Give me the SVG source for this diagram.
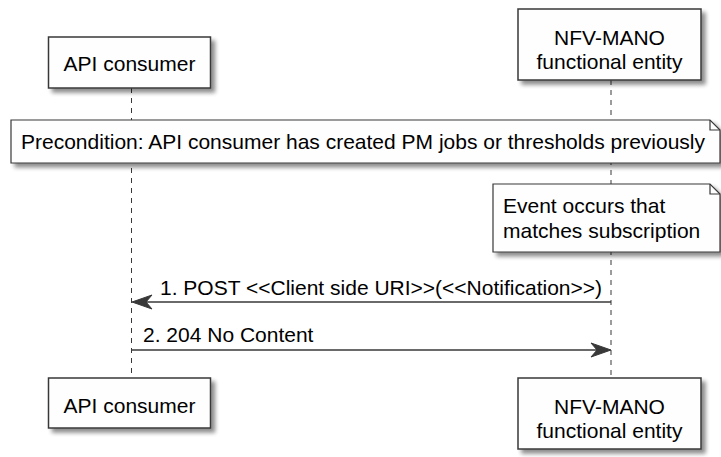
<svg xmlns="http://www.w3.org/2000/svg" width="721" height="457" viewBox="0 0 721 457">
<style>
  .box{fill:#fefefe;stroke:#383838;stroke-width:1.5;filter:url(#sh)}
  .note{fill:#fefefe;stroke:#383838;stroke-width:1.2;filter:url(#sh)}
  .fold{fill:none;stroke:#383838;stroke-width:1.2}
  .life{stroke:#383838;stroke-width:1;stroke-dasharray:5,5;fill:none}
  .msg{stroke:#383838;stroke-width:1.5;fill:none}
  .head{fill:#383838;stroke:#383838;stroke-width:1}
  text{font-family:"Liberation Sans",Arial,sans-serif;font-size:21px;fill:#000}
  .c{text-anchor:middle}
</style>
<defs>
  <filter id="sh" x="-10%" y="-10%" width="130%" height="140%">
    <feGaussianBlur in="SourceAlpha" stdDeviation="2"/>
    <feOffset dx="4" dy="4" result="b"/>
    <feComponentTransfer><feFuncA type="linear" slope="0.45"/></feComponentTransfer>
    <feMerge><feMergeNode/><feMergeNode in="SourceGraphic"/></feMerge>
  </filter>
</defs>
<g id="connectors">
  <line class="life" x1="131.5" y1="88" x2="131.5" y2="378"/>
  <line class="life" x1="611" y1="80" x2="611" y2="378"/>
  <line class="msg" x1="140" y1="302" x2="611" y2="302"/>
  <polygon class="head" points="132,302 152,295 146,302 152,309"/>
  <text x="160" y="295">1. POST &lt;&lt;Client side URI&gt;&gt;(&lt;&lt;Notification&gt;&gt;)</text>
  <line class="msg" x1="131.5" y1="350" x2="603" y2="350"/>
  <polygon class="head" points="611,350 591,343 597,350 591,357"/>
  <text x="143" y="342">2. 204 No Content</text>
</g>
<g id="api-top">
  <rect class="box" x="48.5" y="37" width="162" height="51"/>
  <text class="c" x="129.5" y="71">API consumer</text>
</g>
<g id="nfv-top">
  <rect class="box" x="518" y="9" width="183" height="71"/>
  <text class="c" x="609.5" y="45">NFV-MANO</text>
  <text class="c" x="609.5" y="69">functional entity</text>
</g>
<g id="note-precondition">
  <path class="note" d="M11,120 H710 L720,130 V163 H11 Z"/>
  <path class="fold" d="M710,120 V130 H720"/>
  <text x="21" y="149">Precondition: API consumer has created PM jobs or thresholds previously</text>
</g>
<g id="note-event">
  <path class="note" d="M493,184 H710 L720,194 V252 H493 Z"/>
  <path class="fold" d="M710,184 V194 H720"/>
  <text x="503" y="213">Event occurs that</text>
  <text x="503" y="238">matches subscription</text>
</g>
<g id="api-bottom">
  <rect class="box" x="48.5" y="378" width="162" height="50"/>
  <text class="c" x="129.5" y="413">API consumer</text>
</g>
<g id="nfv-bottom">
  <rect class="box" x="518" y="378" width="183" height="71"/>
  <text class="c" x="609.5" y="414">NFV-MANO</text>
  <text class="c" x="609.5" y="438">functional entity</text>
</g>
</svg>
